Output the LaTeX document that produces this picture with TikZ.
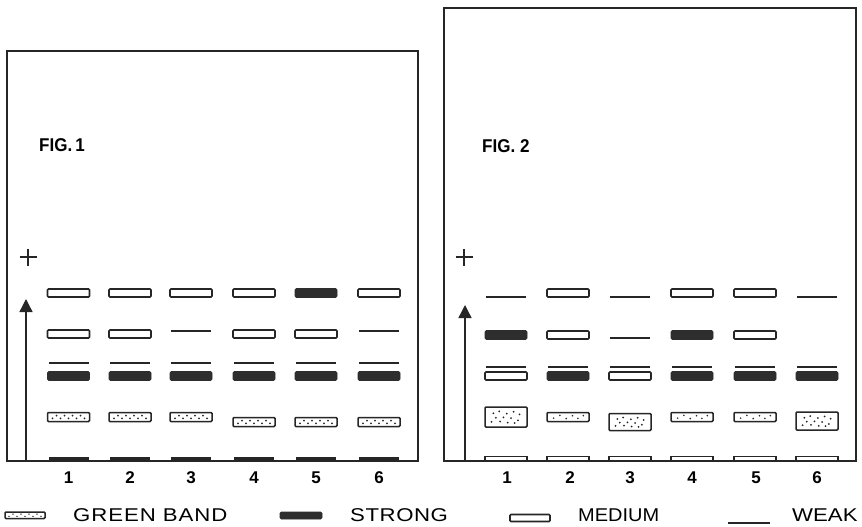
\documentclass[tikz,border=0pt]{standalone}
\usepackage{fontspec}
\setmainfont{Liberation Sans}
\usetikzlibrary{arrows.meta}
\tikzset{
  frame/.style={line width=1.5pt, draw=black!85},
  medband/.style={draw=black!85, line width=1.6pt, fill=white, rounded corners=1pt},
  strongband/.style={fill=black!82, draw=black!82, line width=0.6pt, rounded corners=1.2pt},
  weakband/.style={draw=black!85, line width=1.3pt},
  greenband/.style={draw=black!85, line width=1.5pt, fill=white, rounded corners=1pt},
  gdot/.style={fill=black!85},
  numlab/.style={font=\bfseries\fontsize{17}{17}\selectfont, inner sep=0pt},
  figlab/.style={font=\bfseries\fontsize{18.5}{18.5}\selectfont\addfontfeature{FakeStretch=0.92}, inner sep=0pt, anchor=west},
  leglab/.style={font=\fontsize{18.5}{18.5}\selectfont\addfontfeature{FakeStretch=1.2}, inner sep=0pt, anchor=west},
  elec/.style={line width=1.4pt, draw=black!85, -{Triangle[length=13pt,width=13pt]}},
  plusmark/.style={line width=1.3pt, draw=black!85},
}
\newcommand{\medb}[2]{\draw[medband] ({#1-21},{#2-4}) rectangle ({#1+21},{#2+4});}
\newcommand{\strongb}[2]{\path[strongband] ({#1-21},{#2-4.5}) rectangle ({#1+21},{#2+4.5});}
\newcommand{\weakb}[2]{\draw[weakband] ({#1-20},#2) -- ({#1+20},#2);}
\newcommand{\greenb}[2]{\draw[greenband] ({#1-21},{#2-4.5}) rectangle ({#1+21},{#2+4.5});
  \foreach \i in {0,...,8}{\fill[gdot] ({#1-16+\i*4},{#2+1.3*(-1)^\i}) circle[radius=1pt];}}
\newcommand{\greensm}[2]{\draw[greenband] ({#1-21},{#2-4.5}) rectangle ({#1+21},{#2+4.5});
  \foreach \fx/\fy in {-0.8/0.3,-0.45/-0.4,-0.1/0.4,0.25/-0.3,0.55/0.35,0.85/-0.35}{\fill[gdot] ({#1+\fx*18},{#2+\fy*4}) circle[radius=0.9pt];}}
\newcommand{\greenbig}[3]{\draw[greenband] ({#1-21},{#2-#3/2}) rectangle ({#1+21},{#2+#3/2});
  \foreach \fx/\fy in {-0.75/-0.5,-0.4/-0.75,0.05/-0.45,0.45/-0.7,0.8/-0.35,-0.6/0.1,-0.15/0.05,0.3/0.15,0.7/0.45,-0.85/0.65,-0.35/0.6,0.1/0.75,0.5/0.8}{\fill[gdot] ({#1+\fx*17},{#2+\fy*(#3/2-2.5)}) circle[radius=1pt];}}
\begin{document}
\begin{tikzpicture}[x=1pt,y=-1pt]
\useasboundingbox (0,0) rectangle (862,527);
% frames
\draw[frame] (7,51) rectangle (418,461);
\draw[frame] (444,8) rectangle (856,461);
% labels
\node[figlab] (f1) at (39,145) {FIG.\,1};
\node[figlab] (f2) at (482,146) {FIG. 2};
% plus signs
\draw[plusmark] (19.5,257) -- (36.5,257) (28,248.5) -- (28,265.5);
\draw[plusmark] (455.5,257) -- (472.5,257) (464,248.5) -- (464,265.5);
% arrows
\coordinate (a1s) at (26,461); \coordinate (a1e) at (26,299);
\coordinate (a2s) at (465,461); \coordinate (a2e) at (465,305);
\draw[elec] (a1s) -- (a1e);
\draw[elec] (a2s) -- (a2e);
% ---- Fig 1 bands
\medb{68.5}{293} \medb{130}{293} \medb{191}{293} \medb{254}{293} \strongb{316}{293} \medb{379}{293}
\medb{68.5}{334} \medb{130}{334} \weakb{191}{331} \medb{254}{334} \medb{316}{334} \weakb{379}{331}
\foreach \c in {68.5,130,191,254,316,379}{\weakb{\c}{363} \strongb{\c}{376}}
\greenb{68.5}{417} \greenb{130}{417} \greenb{191}{417} \greenb{254}{422} \greenb{316}{422} \greenb{379}{422}
\foreach \c in {68.5,130,191,254,316,379}{\fill[black!85] ({\c-20},457) rectangle ({\c+20},460.5);}
% ---- Fig 2 bands
\weakb{506}{297} \medb{568}{293} \weakb{630}{297} \medb{692}{293} \medb{755}{293} \weakb{817}{297}
\strongb{506}{335} \medb{568}{335} \weakb{630}{338} \strongb{692}{335} \medb{755}{335}
\foreach \c in {506,568,630,692,755,817}{\weakb{\c}{367}}
\medb{506}{376} \strongb{568}{376} \medb{630}{376} \strongb{692}{376} \strongb{755}{376} \strongb{817}{376}
\greenbig{506}{417}{20} \greensm{568}{417} \greenbig{630}{422}{17} \greensm{692}{417} \greensm{755}{417} \greenbig{817}{421}{18}
\foreach \c in {506,568,630,692,755,817}{\draw[black!85,line width=1.1pt] ({\c-21},461) -- ({\c-21},456.5) -- ({\c+21},456.5) -- ({\c+21},461);}
% lane numbers
\foreach \c/\n [count=\k] in {68.5/1,130/2,191/3,254/4,316/5,379/6}{\node[numlab] (na\k) at (\c,477.5) {\n};}
\foreach \c/\n [count=\k] in {507/1,570/2,630/3,692/4,756/5,817/6}{\node[numlab] (nb\k) at (\c,477.5) {\n};}
% legend
\draw[greenband] (5,512) rectangle (45,518.5);
\foreach \i in {0,...,8}{\fill[gdot] ({9+\i*4},{515.2+1.1*(-1)^\i}) circle[radius=0.8pt];}
\node[leglab] (lg) at (73,515) {\addfontfeature{LetterSpace=5}GREEN BAND};
\path[strongband] (280,512) rectangle (322,519);
\node[leglab] (ls) at (350,515) {\addfontfeature{LetterSpace=3}STRONG};
\draw[medband] (510,514.5) rectangle (550,521.5);
\node[leglab] (lm) at (578,515) {\addfontfeature{FakeStretch=1.08}MEDIUM};
\draw[weakband] (728,523) -- (770,523);
\node[leglab] (lw) at (792,515) {WEAK};
\end{tikzpicture}
\end{document}
